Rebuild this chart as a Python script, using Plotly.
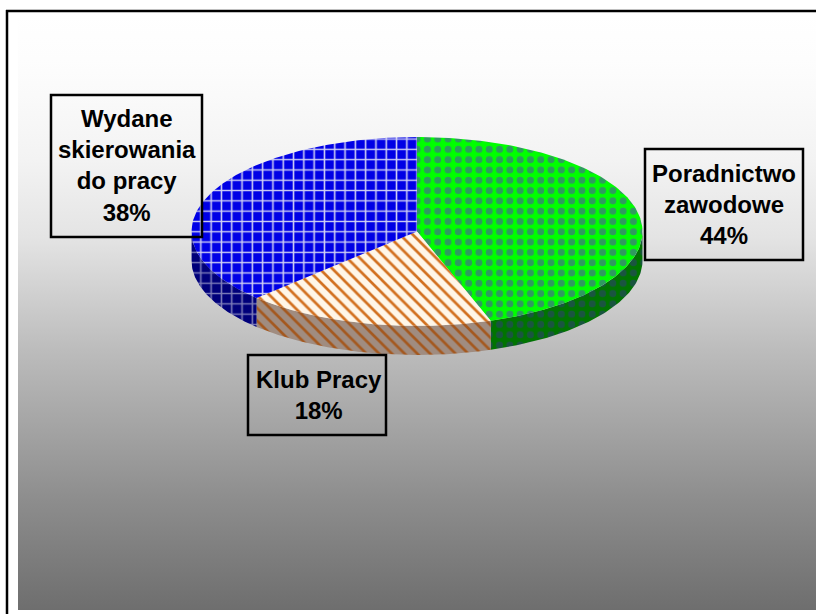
import numpy as np
import plotly.graph_objects as go

# Data
categories = ["Poradnictwo<br>zawodowe", "Klub Pracy", "Wydane<br>skierowania<br>do pracy"]
values = [44.7, 17.9, 37.4]
percent_labels = ["44%", "18%", "38%"]

# Style
top_patterns = [
    dict(shape=".", bgcolor="#00ff00", fgcolor="#2f9a60", fgopacity=1, size=10.3, solidity=0.36),
    dict(shape="\\", bgcolor="#fff6e8", fgcolor="#d2701f", fgopacity=1, size=9, solidity=0.3),
    dict(shape="+", bgcolor="#0000e6", fgcolor="#d0d0f4", fgopacity=1, size=10.3, solidity=0.28),
]
side_patterns = [
    dict(shape=".", bgcolor="#007400", fgcolor="#1a5540", fgopacity=1, size=10.3, solidity=0.36),
    dict(shape="\\", bgcolor="#a08c80", fgcolor="#a4581e", fgopacity=1, size=9, solidity=0.3),
    dict(shape="+", bgcolor="#00007a", fgcolor="#7c7cb8", fgopacity=1, size=10.3, solidity=0.28),
]
boxes = [(645, 803, 149, 260), (248, 386, 355, 435), (51, 202, 95, 237)]
label_dx = [0, 1.5, 0]

W, H = 816, 614
CX, CY, RX, RY, DEPTH = 417, 231.5, 225.5, 94.5, 29

fig = go.Figure()

# gradient backdrop
grad_top, grad_bot = 12, 610
stops = [(12, 255), (60, 253), (95, 250), (160, 243), (237, 228), (350, 188), (440, 160), (500, 141), (610, 110)]
colorscale = [[(y - grad_top) / (grad_bot - grad_top), f"rgb({g},{g},{g})"] for y, g in stops]
fig.add_trace(go.Scatter(
    x=[18, W, W, 18, 18], y=[grad_top, grad_top, grad_bot, grad_bot, grad_top],
    mode="lines", line=dict(width=0), fill="toself",
    fillgradient=dict(type="vertical", colorscale=[[1 - p, c] for p, c in colorscale][::-1]),
    hoverinfo="skip", showlegend=False))


def ex(t):
    return CX + RX * np.sin(t)


def ey(t):
    return CY - RY * np.cos(t)


total = sum(values)
edges = np.concatenate([[0], np.cumsum(values)]) / total * 2 * np.pi

# side walls: only the front half of the rim (3 o'clock to 9 o'clock) is visible
for i in range(len(values)):
    a, b = max(edges[i], np.pi / 2), min(edges[i + 1], 3 * np.pi / 2)
    if b <= a:
        continue
    t = np.linspace(a, b, 80)
    xs = np.concatenate([ex(t), ex(t[::-1])])
    ys = np.concatenate([ey(t), ey(t[::-1]) + DEPTH])
    fig.add_trace(go.Scatter(
        x=np.append(xs, xs[0]), y=np.append(ys, ys[0]), mode="lines", line=dict(width=0),
        fill="toself", fillpattern=side_patterns[i], name=categories[i], showlegend=False, hoverinfo="skip"))

# top faces
for i in range(len(values)):
    t = np.linspace(edges[i], edges[i + 1], 160)
    xs = np.concatenate([[CX], ex(t), [CX]])
    ys = np.concatenate([[CY], ey(t), [CY]])
    fig.add_trace(go.Scatter(
        x=xs, y=ys, mode="lines", line=dict(width=0), fill="toself",
        fillpattern=top_patterns[i], name=categories[i], showlegend=False, hoverinfo="skip"))

shapes = [
    dict(type="line", x0=7, x1=7, y0=10, y1=H, line=dict(color="black", width=2.5)),
    dict(type="line", x0=6, x1=W, y0=11, y1=11, line=dict(color="black", width=2.5)),
]
annotations = []
for i, (x0, x1, y0, y1) in enumerate(boxes):
    shapes.append(dict(type="rect", x0=x0, x1=x1, y0=y0, y1=y1, layer="above",
                       line=dict(color="black", width=2.5), fillcolor="rgba(0,0,0,0)"))
    annotations.append(dict(
        x=(x0 + x1) / 2 + label_dx[i], y=(y0 + y1) / 2 - 0.5, xref="x", yref="y", showarrow=False,
        text=f"<b>{categories[i]}<br>{percent_labels[i]}</b>", align="center",
        font=dict(family="Liberation Sans, Arial, sans-serif", size=24, color="black")))

fig.update_layout(
    width=W, height=H, margin=dict(l=0, r=0, t=0, b=0),
    paper_bgcolor="white", plot_bgcolor="rgba(0,0,0,0)", showlegend=False,
    xaxis=dict(range=[0, W], visible=False, fixedrange=True),
    yaxis=dict(range=[H, 0], visible=False, fixedrange=True),
    shapes=shapes, annotations=annotations)

fig.write_html("out.html", config=dict(displayModeBar=False),
               post_script="document.body.style.margin='0';document.body.style.overflow='hidden';")
